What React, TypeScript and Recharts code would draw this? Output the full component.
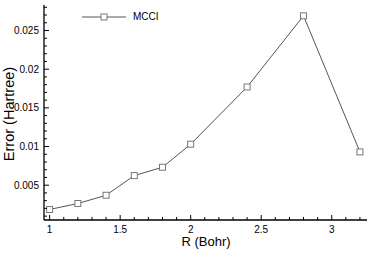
import { LineChart, Line, XAxis, YAxis, Legend } from 'recharts';

const rValues = [1.0, 1.2, 1.4, 1.6, 1.8, 2.0, 2.4, 2.8, 3.2];
const mcciError = [0.00186, 0.00263, 0.0037, 0.00624, 0.00732, 0.0103, 0.0177, 0.0269, 0.0093];
const seriesName = 'MCCI';

const xMajorTicks = [1, 1.5, 2, 2.5, 3];
const xMinorTicks = [1.1, 1.2, 1.3, 1.4, 1.6, 1.7, 1.8, 1.9, 2.1, 2.2, 2.3, 2.4, 2.6, 2.7, 2.8, 2.9, 3.1, 3.2];
const yMajorTicks = [0.005, 0.01, 0.015, 0.02, 0.025];
const yMinorTicks = [
  0.001, 0.002, 0.003, 0.004, 0.006, 0.007, 0.008, 0.009, 0.011, 0.012, 0.013, 0.014,
  0.016, 0.017, 0.018, 0.019, 0.021, 0.022, 0.023, 0.024, 0.026, 0.027, 0.028,
];

const data = rValues.map((r, i) => ({ r, err: mcciError[i] }));

const font = '"Liberation Sans", Arial, Helvetica, sans-serif';

const isMajor = (list: number[], v: number) => list.some((m) => Math.abs(m - v) < 1e-9);

const XTick = (props: any) => {
  const { x, y, payload } = props;
  const major = isMajor(xMajorTicks, payload.value);
  return (
    <g>
      <line x1={x} x2={x} y1={y} y2={y - (major ? 5 : 3)} stroke="#000" strokeWidth={1} />
      {major && (
        <text x={x} y={y + 13} textAnchor="middle" fontSize={10} fontFamily={font} fill="#000">
          {String(payload.value)}
        </text>
      )}
    </g>
  );
};

const YTick = (props: any) => {
  const { x, y, payload } = props;
  const major = isMajor(yMajorTicks, payload.value);
  return (
    <g>
      <line x1={x} x2={x + (major ? 5 : 3)} y1={y} y2={y} stroke="#000" strokeWidth={1} />
      {major && (
        <text x={x - 5} y={y + 3.5} textAnchor="end" fontSize={10} fontFamily={font} fill="#000">
          {String(payload.value)}
        </text>
      )}
    </g>
  );
};

const SquareDot = (props: any) => {
  const { cx, cy, index } = props;
  return <rect key={index} x={cx - 3} y={cy - 3} width={6} height={6} fill="#fff" stroke="#777" strokeWidth={1} />;
};

const LegendBox = () => (
  <div style={{ display: 'flex', alignItems: 'center', fontFamily: font, fontSize: 10, color: '#000' }}>
    <svg width={46} height={10}>
      <line x1={0} x2={44} y1={5} y2={5} stroke="#555" strokeWidth={1} />
      <rect x={19} y={2} width={6} height={6} fill="#fff" stroke="#777" strokeWidth={1} />
    </svg>
    <span style={{ marginLeft: 5 }}>{seriesName}</span>
  </div>
);

export default function App() {
  return (
    <div style={{ position: 'fixed', left: 0, top: 0, width: 374, height: 264, background: '#fff' }}>
      <LineChart width={374} height={264} data={data} margin={{ top: 5, right: 7, bottom: 0, left: 0 }}>
        <XAxis
          dataKey="r"
          type="number"
          domain={[0.96, 3.25]}
          ticks={[...xMajorTicks, ...xMinorTicks]}
          interval={0}
          allowDataOverflow
          tickSize={0}
          tickMargin={0}
          tick={<XTick />}
          axisLine={{ stroke: '#000', strokeWidth: 1.3 }}
          height={44}
          label={{
            content: () => (
              <text x={206} y={246} textAnchor="middle" fontSize={13} fontFamily={font} fill="#000">
                R (Bohr)
              </text>
            ),
          }}
        />
        <XAxis xAxisId="top" orientation="top" dataKey="r" type="number" domain={[0.96, 3.25]} height={0} tick={false} tickLine={false} axisLine={{ stroke: '#000', strokeWidth: 1.3 }} />
        <YAxis
          type="number"
          domain={[0.0005, 0.0283]}
          ticks={[...yMajorTicks, ...yMinorTicks]}
          interval={0}
          allowDataOverflow
          width={44}
          tickSize={0}
          tickMargin={0}
          tick={<YTick />}
          axisLine={{ stroke: '#000', strokeWidth: 1.3 }}
          label={{
            content: () => (
              <text x={14} y={114} transform="rotate(-90 14 114)" textAnchor="middle" fontSize={14.5} fontFamily={font} fill="#000">
                Error (Hartree)
              </text>
            ),
          }}
        />
        <YAxis yAxisId="right" orientation="right" type="number" domain={[0.0005, 0.0283]} width={0} tick={false} tickLine={false} axisLine={{ stroke: '#000', strokeWidth: 1.3 }} />
        <Legend
          layout="vertical"
          align="center"
          verticalAlign="middle"
          content={<LegendBox />}
          wrapperStyle={{ position: 'absolute', left: 82, top: 11, width: 'auto' }}
        />
        <Line
          dataKey="err"
          name={seriesName}
          stroke="#555"
          strokeWidth={1}
          dot={<SquareDot />}
          activeDot={false}
          isAnimationActive={false}
        />
      </LineChart>
    </div>
  );
}
